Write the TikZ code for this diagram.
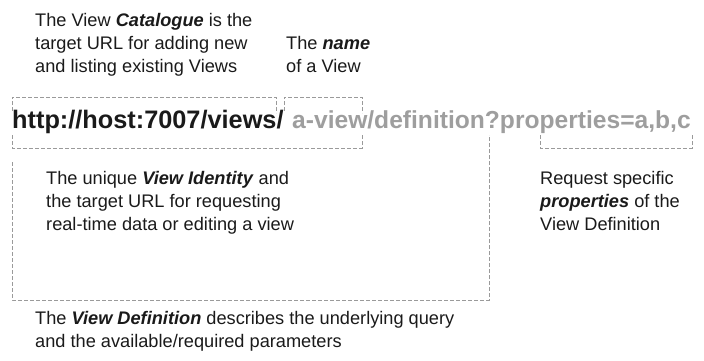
\documentclass[tikz,border=0pt]{standalone}
\usepackage{fontspec}
\setmainfont{Liberation Sans}
\definecolor{bracketgray}{HTML}{9A9A9A}
\definecolor{urlgray}{HTML}{9E9E9E}
\definecolor{notetext}{HTML}{1A1A1A}
\newcommand{\keyterm}[1]{\textbf{\textit{#1}}}
\begin{document}
\begin{tikzpicture}[x=1pt,y=-1pt,
  bracket/.style={draw=bracketgray, line width=0.8pt, dash pattern=on 4pt off 2pt},
  note/.style={anchor=north west, inner sep=0pt, align=left, text=notetext,
    font=\fontsize{18.2}{23}\selectfont},
  urlpart/.style={anchor=base west, inner sep=0pt}]
\useasboundingbox (0,0) rectangle (704,361);

% the URL, split into its fixed and variable parts
\node[urlpart, text=notetext, font=\fontsize{25.3}{28}\selectfont\bfseries] (base) at (12,128)
  {http://host:7007/views/};
\node[urlpart, text=urlgray, font=\fontsize{24.6}{28}\selectfont\bfseries] (rest) at (292,128)
  {a-view/definition?properties=a,b,c};

% notes above the URL
\node[note] (catalogue) at (35,13.5)
  {The View \keyterm{Catalogue} is the\\target URL for adding new\\and listing existing Views};
\node[note] (name) at (286,36.5) {The \keyterm{name}\\of a View};

% notes below the URL
\node[note] (identity) at (46,171.5)
  {The unique \keyterm{View Identity} and\\the target URL for requesting\\real-time data or editing a view};
\node[note] (props) at (540,171.5)
  {Request specific\\\keyterm{properties} of the\\View Definition};
\node[note] (definition) at (35,311.5)
  {The \keyterm{View Definition} describes the underlying query\\and the available/required parameters};

% brackets above
\draw[bracket] (12,111) -- (12,97) -- (276,97) -- (276,113);
\draw[bracket] (284,111) -- (284,97) -- (362,97) -- (362,113);

% brackets below
\draw[bracket] (12,135) -- (12,148) -- (362,148) -- (362,135);
\draw[bracket] (540,135) -- (540,148) -- (692,148) -- (692,135);
\draw[bracket] (12,162) -- (12,300) -- (489,300) -- (489,135);
\end{tikzpicture}
\end{document}
